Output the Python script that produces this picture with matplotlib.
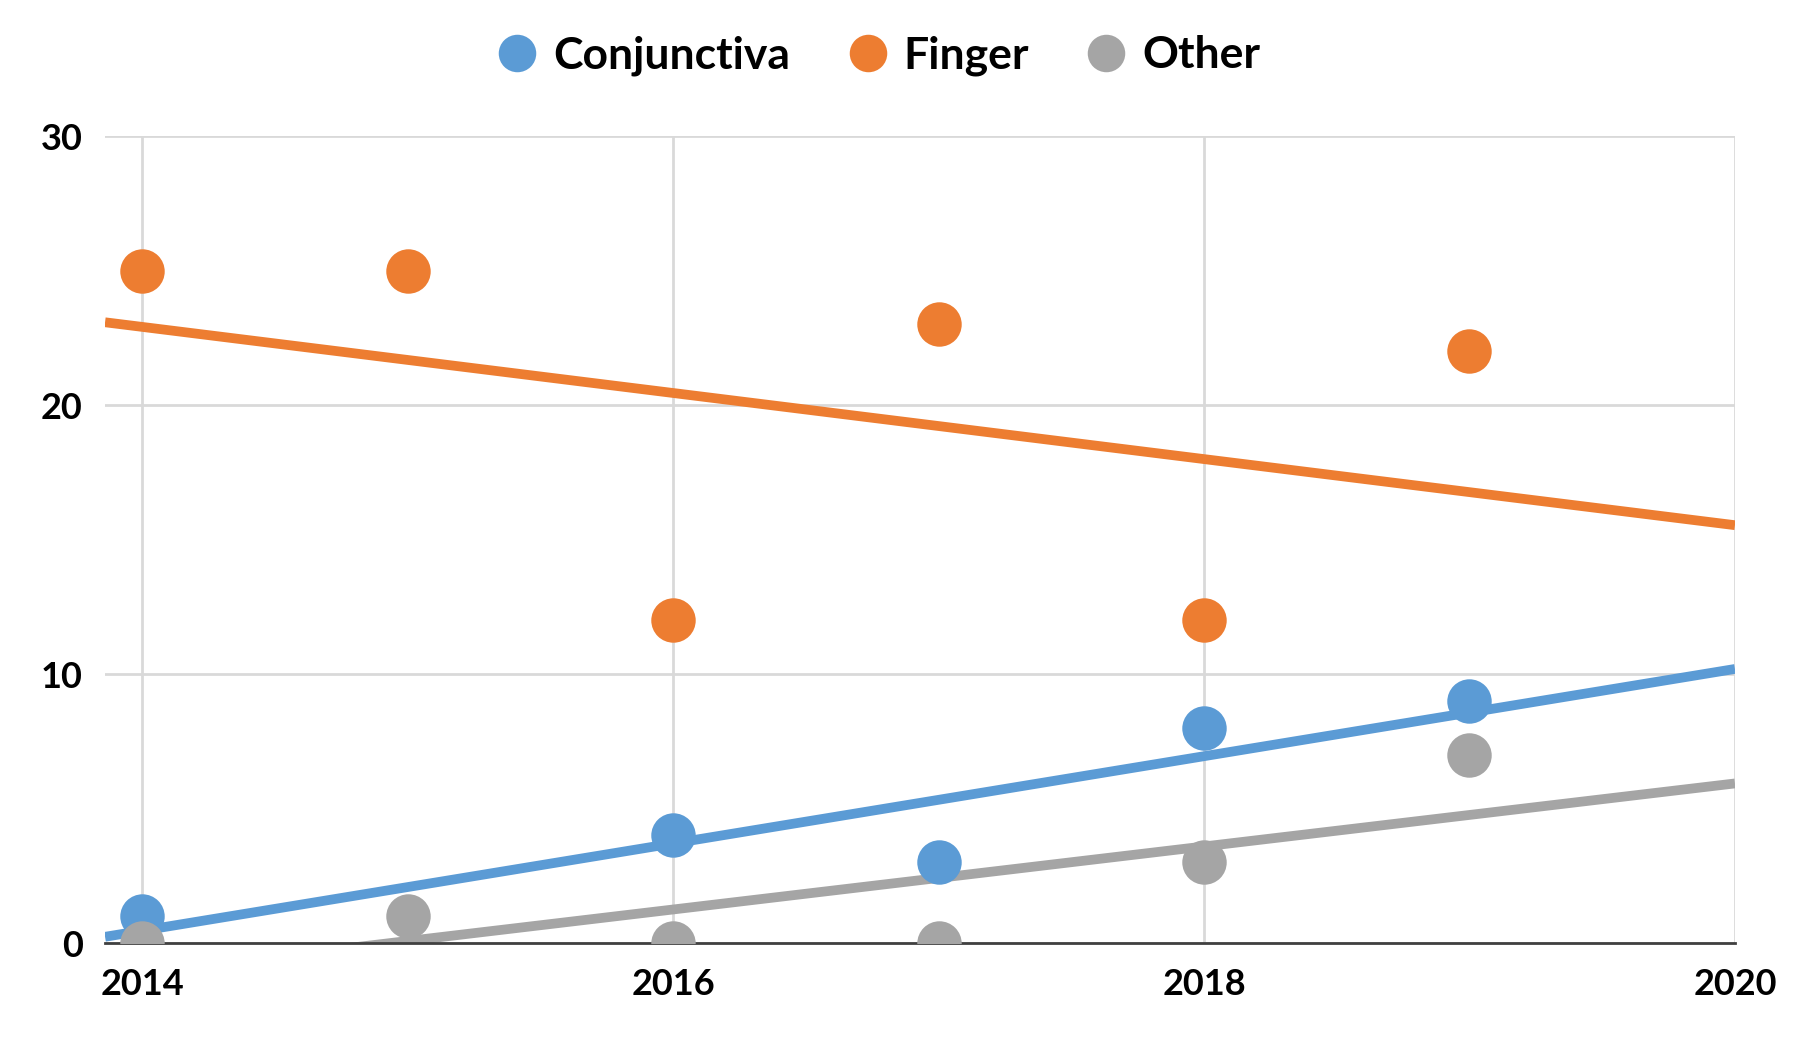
import matplotlib
matplotlib.use("Agg")
import matplotlib.pyplot as plt
from matplotlib.lines import Line2D
import numpy as np

plt.rcParams['font.family'] = ['Lato', 'DejaVu Sans']

# Data
years = [2014, 2015, 2016, 2017, 2018, 2019]
conjunctiva = [1, np.nan, 4, 3, 8, 9]   # no point shown for 2015
finger = [25, 25, 12, 23, 12, 22]
other = [0, 1, 0, 0, 3, 7]

series_names = ["Conjunctiva", "Finger", "Other"]
colors = ["#5B9BD5", "#ED7D31", "#A5A5A5"]

x_ticks = [2014, 2016, 2018, 2020]
y_ticks = [0, 10, 20, 30]

fig = plt.figure(figsize=(18.08, 10.44), dpi=100)
ax = fig.add_axes([0.0581, 0.0967, 0.9596 - 0.0581, 0.8697 - 0.0967])

x_lo, x_hi = 2013.86, 2020

for name, vals, col in zip(series_names, [conjunctiva, finger, other], colors):
    x = np.array(years, dtype=float)
    y = np.array(vals, dtype=float)
    ok = ~np.isnan(y)
    # linear trendline (least squares), drawn across the whole axis
    k, b = np.polyfit(x[ok], y[ok], 1)
    tx = np.array([x_lo, x_hi])
    ax.plot(tx, k * tx + b, color=col, lw=7, zorder=2, solid_capstyle='butt')
    ax.plot(x[ok], y[ok], 'o', color=col, ms=32, mec='none', zorder=3)

ax.set_xlim(x_lo, x_hi)
ax.set_ylim(0, 30)
ax.set_xticks(x_ticks)
ax.set_yticks(y_ticks)
ax.grid(True, color="#D9D9D9", lw=2)
ax.set_axisbelow(True)
for s in ['left', 'right', 'top']:
    ax.spines[s].set_visible(False)
ax.spines['bottom'].set_color("#404040")
ax.spines['bottom'].set_linewidth(2)
ax.spines['bottom'].set_zorder(2.5)
ax.tick_params(axis='both', length=0, labelsize=26)
ax.tick_params(axis='y', pad=16)
ax.tick_params(axis='x', pad=18)
for lab in ax.get_xticklabels() + ax.get_yticklabels():
    lab.set_fontweight('bold')

handles = [Line2D([], [], marker='o', ls='none', color=c, ms=27, mec='none') for c in colors]
fig.legend(handles, series_names, loc='center', bbox_to_anchor=(0.486, 0.947), ncol=3,
           frameon=False, prop={'size': 32, 'weight': 'bold'},
           handletextpad=0.35, columnspacing=1.3, handlelength=0.9)

fig.savefig("out.png", dpi=100)
